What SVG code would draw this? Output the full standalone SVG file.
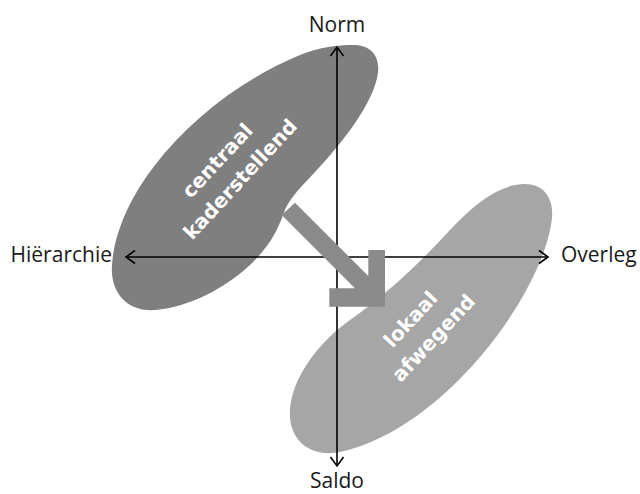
<svg xmlns="http://www.w3.org/2000/svg" width="640" height="494" viewBox="0 0 640 494">
  <defs>
    <marker id="chev" viewBox="-10 -8 12 16" markerWidth="12" markerHeight="16" refX="0" refY="0" orient="auto" markerUnits="userSpaceOnUse" overflow="visible">
      <path d="M -9 -6.5 L 0 0 L -9 6.5" fill="none" stroke="#000" stroke-width="1.6" stroke-linejoin="miter"/>
    </marker>
    <style>
      .axis { stroke: #000; stroke-width: 1.6; fill: none; marker-end: url(#chev); }
      .lbl { font-family: "Open Sans", "Liberation Sans", sans-serif; font-size: 21px; fill: #1a1a1a; }
      .blobtxt { font-family: "DejaVu Sans", "Liberation Sans", sans-serif; font-weight: bold; font-size: 20px; fill: #ffffff; text-anchor: middle; }
    </style>
  </defs>

  <g id="centraal-kaderstellend">
    <path d="M 352 45 C 372 44, 382 58, 377 78 C 371 105, 345 140, 315 172 C 298 190, 288 200, 283 215 C 277 232, 268 248, 250 265 C 225 288, 190 307, 155 310 C 125 312, 110 290, 112 265 C 114 235, 128 200, 155 165 C 190 120, 240 80, 300 55 C 320 47, 338 45, 352 45 Z" fill="#7f7f7f"/>
  </g>

  <g id="lokaal-afwegend">
    <path d="M 525 184 C 545 184, 556 200, 551 225 C 545 260, 520 310, 480 357 C 445 398, 395 440, 340 452 C 310 458, 288 440, 290 410 C 292 380, 315 345, 350 320 C 385 295, 415 268, 450 230 C 475 203, 500 184, 525 184 Z" fill="#a6a6a6"/>
  </g>

  <g id="connectors">
    <line class="axis" x1="337" y1="257" x2="337" y2="47"/>
    <line class="axis" x1="337" y1="257" x2="337" y2="466"/>
    <line class="axis" x1="337" y1="257" x2="126" y2="257"/>
    <line class="axis" x1="337" y1="257" x2="548" y2="257"/>
  </g>

  <g id="shift-arrow">
    <path d="M 295 202.7 L 368.3 276 L 368.3 250 L 385 250 L 385 306.7 L 329.3 306.7 L 329.3 288.3 L 355 288.3 L 281.7 215 Z" fill="#8b8b8b"/>
  </g>

  <g id="blob-labels">
    <g transform="translate(228.7 171.3) rotate(-47)">
      <text class="blobtxt" x="0" y="-8.7">centraal</text>
      <text class="blobtxt" x="2" y="20.7">kaderstellend</text>
    </g>
    <g transform="translate(422 330) rotate(-47)">
      <text class="blobtxt" x="0" y="-8.7">lokaal</text>
      <text class="blobtxt" x="2" y="20.7">afwegend</text>
    </g>
  </g>

  <g id="axis-labels">
    <text class="lbl" x="337" y="32" text-anchor="middle">Norm</text>
    <text class="lbl" x="337" y="488" text-anchor="middle">Saldo</text>
    <text class="lbl" x="112" y="262" text-anchor="end">Hiërarchie</text>
    <text class="lbl" x="561" y="262" text-anchor="start">Overleg</text>
  </g>
</svg>
